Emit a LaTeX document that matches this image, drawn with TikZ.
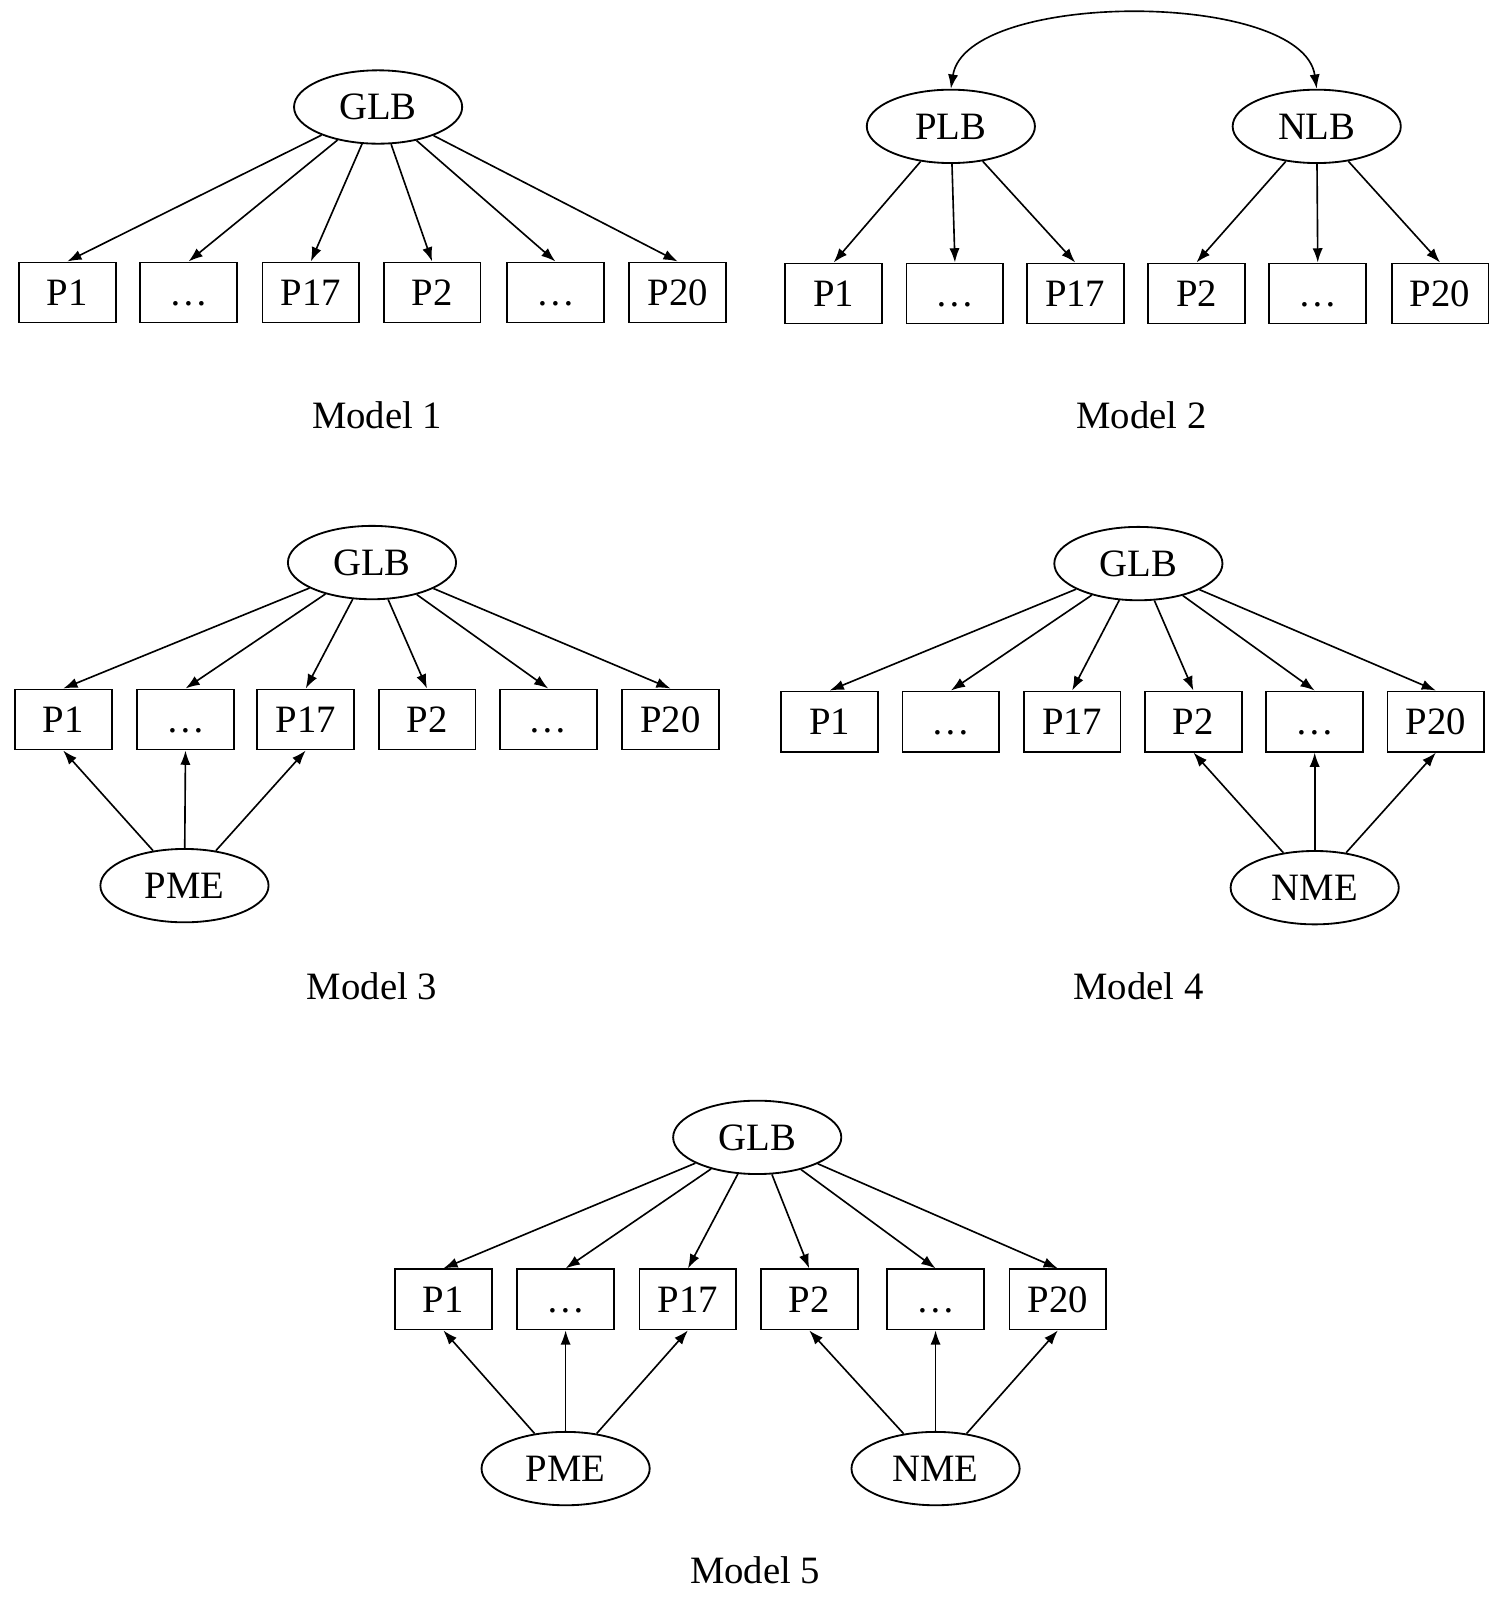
\documentclass[tikz,border=0pt]{standalone}
\usepackage{fontspec}
\setmainfont{Liberation Serif}
\usetikzlibrary{shapes.geometric,arrows.meta}
\begin{document}
\begin{tikzpicture}[x=0.5pt,y=-0.5pt,
  lat/.style={draw,ellipse,minimum width=82.5pt,minimum height=36pt,inner sep=0pt,line width=0.9pt,text height=12.5pt,text depth=0pt,font=\fontsize{19}{22}\selectfont},
  obs/.style={draw,rectangle,minimum width=47.5pt,minimum height=29.5pt,inner sep=0pt,line width=0.9pt,text height=12.5pt,text depth=0pt,font=\fontsize{19}{22}\selectfont},
  arr/.style={-{Latex[length=7pt,width=5pt]},line width=0.8pt},
  darr/.style={{Latex[length=7pt,width=5pt]}-{Latex[length=7pt,width=5pt]},line width=0.8pt},
  mlabel/.style={font=\fontsize{19}{22}\selectfont}]
\useasboundingbox (0,0) rectangle (1470,1568);

% ---------- Model 1 ----------
\node[lat] (m1g) at (371,105) {GLB};
\foreach \x/\n/\t in {66/a/P1,185/b/\dots,305/c/P17,424/d/P2,545/e/\dots,665/f/P20}
  \node[obs] (m1\n) at (\x,287) {\t};
\foreach \n in {a,b,c,d,e,f} \draw[arr] (m1g) -- (m1\n.north);
\node[mlabel] (m1lab) at (370,407) {Model 1};

% ---------- Model 2 ----------
\node[lat] (m2p) at (933,124) {PLB};
\node[lat] (m2n) at (1292,124) {NLB};
\foreach \x/\n/\t in {818/a/P1,937/b/\dots,1055/c/P17,1174/d/P2,1293/e/\dots,1413/f/P20}
  \node[obs] (m2\n) at (\x,288) {\t};
\foreach \n in {a,b,c} \draw[arr] (m2p) -- (m2\n.north);
\foreach \n in {d,e,f} \draw[arr] (m2n) -- (m2\n.north);
\draw[darr] (m2p.north) .. controls (948,-10) and (1278,-10) .. (m2n.north);
\node[mlabel] (m2lab) at (1120,407) {Model 2};

% ---------- Model 3 ----------
\node[lat] (m3g) at (365,552) {GLB};
\foreach \x/\n/\t in {62/a/P1,182/b/\dots,300/c/P17,419/d/P2,538/e/\dots,658/f/P20}
  \node[obs] (m3\n) at (\x,706) {\t};
\foreach \n in {a,b,c,d,e,f} \draw[arr] (m3g) -- (m3\n.north);
\node[lat] (m3pme) at (181,869) {PME};
\foreach \n in {a,b,c} \draw[arr] (m3pme) -- (m3\n.south);
\node[mlabel] (m3lab) at (365,968) {Model 3};

% ---------- Model 4 ----------
\node[lat] (m4g) at (1117,553) {GLB};
\foreach \x/\n/\t in {814/a/P1,933/b/\dots,1052/c/P17,1171/d/P2,1290/e/\dots,1409/f/P20}
  \node[obs] (m4\n) at (\x,708) {\t};
\foreach \n in {a,b,c,d,e,f} \draw[arr] (m4g) -- (m4\n.north);
\node[lat] (m4nme) at (1290,871) {NME};
\foreach \n in {d,e,f} \draw[arr] (m4nme) -- (m4\n.south);
\node[mlabel] (m4lab) at (1117,968) {Model 4};

% ---------- Model 5 ----------
\node[lat] (m5g) at (743,1116) {GLB};
\foreach \x/\n/\t in {435/a/P1,555/b/\dots,675/c/P17,794/d/P2,918/e/\dots,1038/f/P20}
  \node[obs] (m5\n) at (\x,1275) {\t};
\foreach \n in {a,b,c,d,e,f} \draw[arr] (m5g) -- (m5\n.north);
\node[lat] (m5pme) at (555,1441) {PME};
\node[lat] (m5nme) at (918,1441) {NME};
\foreach \n in {a,b,c} \draw[arr] (m5pme) -- (m5\n.south);
\foreach \n in {d,e,f} \draw[arr] (m5nme) -- (m5\n.south);
\node[mlabel] (m5lab) at (741,1541) {Model 5};
\end{tikzpicture}
\end{document}
